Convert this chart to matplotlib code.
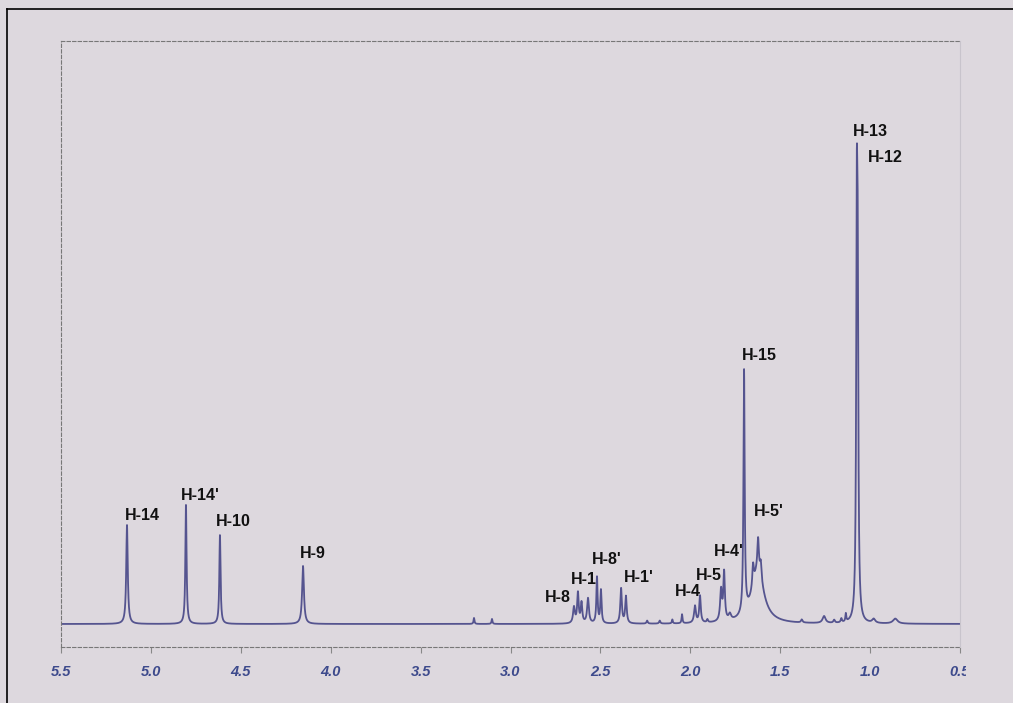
import numpy as np
import matplotlib
matplotlib.use("Agg")
import matplotlib.pyplot as plt
from matplotlib.lines import Line2D
from matplotlib.transforms import Bbox

# peak list: shift (ppm), intensity, half width (ppm)
shift = [5.133, 4.805, 4.616, 4.154, 3.203, 3.103,
         2.647, 2.625, 2.605, 2.569, 2.519, 2.497,
         2.385, 2.358, 2.240, 2.170, 2.100, 2.046,
         1.974, 1.946, 1.905, 1.829, 1.812, 1.780,
         1.701, 1.625, 1.651, 1.623, 1.608,
         1.380, 1.256, 1.200, 1.160, 1.135,
         1.074, 1.069, 0.980, 0.860]
height = [99, 119, 89, 58, 6, 5,
          16, 30, 20, 25, 46, 33,
          35, 27, 3, 3, 4, 9,
          17, 27, 3, 31, 48, 6,
          243, 52, 22, 32, 16,
          3, 7, 3, 4, 8,
          358, 287, 4, 5]
hwhm = [0.005, 0.004, 0.004, 0.006, 0.003, 0.003,
        0.006, 0.005, 0.005, 0.006, 0.004, 0.004,
        0.005, 0.005, 0.004, 0.004, 0.003, 0.003,
        0.006, 0.005, 0.004, 0.006, 0.005, 0.008,
        0.004, 0.040, 0.005, 0.005, 0.005,
        0.005, 0.010, 0.005, 0.004, 0.003,
        0.004, 0.004, 0.010, 0.015]

# peak assignments and where their labels sit (ppm, intensity)
labels = ["H-14", "H-14'", "H-10", "H-9", "H-8", "H-1", "H-8'", "H-1'",
          "H-4", "H-5", "H-4'", "H-5'", "H-15", "H-13", "H-12"]
label_ppm = [5.049, 4.725, 4.541, 4.101, 2.735, 2.590, 2.462, 2.289,
             2.011, 1.894, 1.788, 1.565, 1.615, 0.996, 0.918]
label_int = [108, 128, 102, 71, 27, 45, 64, 47,
             32, 48, 72, 113, 268, 492, 467]

ticks = [5.5, 5.0, 4.5, 4.0, 3.5, 3.0, 2.5, 2.0, 1.5, 1.0, 0.5]

bg = "#ddd8de"
line_col = "#55548f"
tick_col = "#3d4a8c"

ppm = np.linspace(5.5, 0.5, 12000)
spec = np.zeros_like(ppm)
for c, h, w in zip(shift, height, hwhm):
    spec += h / (1 + ((ppm - c) / w) ** 2)

fig = plt.figure(figsize=(10.13, 7.03), dpi=100, facecolor=bg)
W, H = 1013, 703
ax = fig.add_axes([61 / W, (H - 647) / H, (960 - 61) / W, (647 - 41) / H])
ax.set_facecolor(bg)
ax.plot(ppm, spec, color=line_col, lw=1.3)
ax.set_xlim(5.5, 0.5)
ax.set_ylim(-23, 583)

for lab, x, y in zip(labels, label_ppm, label_int):
    ax.text(x, y, lab, ha="center", va="center", fontsize=11.5, fontweight="bold",
            family=["Liberation Sans", "DejaVu Sans"], color="#111111")

ax.set_yticks([])
ax.set_xticks(ticks)
ax.set_xticklabels([f"{t:.1f}" for t in ticks], fontsize=10.5, fontweight="bold",
                   style="italic", color=tick_col,
                   family=["Liberation Sans", "DejaVu Sans"])
ax.tick_params(axis="x", direction="out", length=4, width=0.8, color="#888888", pad=9)
for side in ["left", "top", "bottom"]:
    ax.spines[side].set_linestyle((0, (3, 2)))
    ax.spines[side].set_color("#777777")
    ax.spines[side].set_linewidth(0.8)
ax.spines["right"].set_color("#c8c4cc")
ax.spines["right"].set_linewidth(0.8)

# the last tick label is cut off in the original
clip = Bbox.from_extents(0, 0, 966, H)
last = ax.get_xticklabels()[-1]
last.set_clip_box(clip)
last.set_clip_on(True)

# outer frame
fig.add_artist(Line2D([7 / W, 7 / W], [0, 1 - 9 / H], color="black", lw=1.2))
fig.add_artist(Line2D([7 / W, 1], [1 - 9 / H, 1 - 9 / H], color="black", lw=1.2))

fig.savefig("out.png", dpi=100, facecolor=bg)
